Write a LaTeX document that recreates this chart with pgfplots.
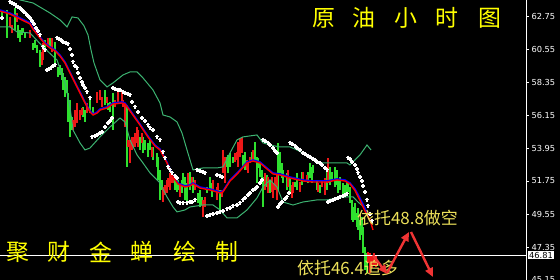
\documentclass[border=0pt]{standalone}
\usepackage{pgfplots}
\pgfplotsset{compat=1.18}
\usepackage{pgfplotstable}
\usetikzlibrary{arrows.meta}
\usepackage{fontspec}
\newfontfamily\cjk{Noto Sans CJK SC}
\newfontfamily\tickfont{DejaVu Sans}
\definecolor{barup}{HTML}{2EE02E}
\definecolor{bardn}{HTML}{EE1818}
\definecolor{band}{HTML}{3CB371}
\definecolor{titley}{HTML}{FFFF00}
\definecolor{notey}{HTML}{EEE25A}
\definecolor{arrowred}{HTML}{F03434}

% hourly bars: x position, low, high
\pgfplotstableread{
x lo hi
2 62.62 63.15
7 61.29 63.15
15 61.82 63.29
18 61.29 62.15
20 61.02 61.82
22 61.49 61.95
23 61.62 61.95
25 61.29 61.62
33 60.49 60.95
35 60.62 61.15
37 60.29 60.82
40 59.35 60.49
45 60.62 61.15
50 60.69 61.29
55 59.62 61.02
58 58.69 59.35
60 58.82 59.49
62 58.49 59.29
63 57.82 58.95
65 57.35 58.69
67 57.62 58.49
68 55.69 57.62
70 54.69 57.15
72 55.15 56.02
83 56.02 56.69
85 55.69 56.49
90 56.29 57.29
93 56.15 56.69
105 56.82 57.82
108 56.49 56.95
110 56.35 57.02
113 55.15 57.62
127 52.69 56.82
140 53.82 54.69
143 53.62 54.69
145 53.82 54.49
148 53.35 54.29
150 53.82 54.49
153 53.15 54.02
157 52.69 53.62
158 51.82 53.35
160 50.49 52.49
162 51.15 51.82
175 51.15 51.82
177 51.02 51.62
178 51.15 51.82
182 50.95 51.82
183 51.35 52.29
185 50.49 52.02
187 50.29 51.62
190 51.15 52.35
193 50.95 52.02
198 50.29 50.95
200 50.02 51.15
202 50.15 50.69
207 50.95 51.35
210 51.15 52.02
212 50.69 51.62
220 49.82 51.15
227 52.69 53.35
228 52.29 53.49
230 52.69 53.62
233 52.95 53.35
243 52.69 53.49
245 52.49 53.69
252 53.02 53.69
255 53.15 54.35
257 51.62 53.35
258 52.62 53.29
260 52.02 53.02
262 51.82 52.49
263 50.02 52.02
267 51.35 52.15
270 50.95 51.82
278 51.15 54.29
280 52.29 53.69
282 51.95 52.95
283 51.62 52.49
287 51.15 52.29
290 51.02 51.95
295 51.35 51.69
297 51.15 52.29
302 51.49 52.35
308 51.62 52.35
310 51.95 52.95
312 51.62 52.69
313 52.29 52.82
317 51.15 51.82
320 50.95 51.49
327 51.15 52.49
330 51.49 52.69
332 51.82 52.35
335 51.35 52.69
337 51.49 52.49
338 50.95 51.82
340 51.15 52.02
343 50.69 51.62
345 50.82 51.49
347 50.82 51.69
348 51.02 51.62
350 50.29 51.35
352 49.15 50.49
353 49.02 50.02
355 49.15 50.29
357 48.69 49.62
358 48.49 49.95
360 47.82 49.15
362 48.15 49.35
363 46.95 48.69
365 45.82 47.35
367 45.62 46.95
}\upbars

\pgfplotstableread{
x lo hi
10 62.02 62.69
12 61.62 62.15
17 62.35 62.95
30 61.29 61.82
42 59.49 60.35
43 59.82 60.95
48 60.69 61.29
52 60.35 61.29
73 55.15 55.82
75 55.35 56.49
77 55.62 56.95
80 55.82 56.49
82 56.15 56.62
87 56.29 56.95
97 56.95 57.69
100 57.15 57.82
102 56.69 57.35
107 56.95 57.35
115 56.69 57.15
118 57.02 57.82
122 57.02 57.69
123 56.69 57.15
125 55.35 56.95
128 54.02 54.49
130 52.95 54.49
132 53.82 54.69
133 54.02 54.69
135 54.02 54.95
137 54.29 55.35
138 54.02 55.15
142 54.29 54.95
152 53.35 54.02
163 50.35 51.35
165 50.82 51.49
167 50.95 51.82
168 51.35 51.95
170 51.15 52.29
172 51.62 52.29
173 51.62 52.02
180 50.69 51.62
188 51.35 52.29
192 51.62 52.02
195 51.15 51.82
203 49.35 50.49
205 50.02 50.69
213 51.15 51.82
217 50.49 51.35
218 50.95 51.62
222 50.69 51.15
223 52.29 53.82
225 51.62 53.35
235 53.02 53.62
237 53.15 53.69
238 52.69 54.35
240 53.35 54.62
242 53.62 54.69
247 52.49 53.15
248 52.29 53.02
250 52.95 53.35
253 53.15 53.82
265 51.15 52.29
268 50.95 52.02
272 51.02 52.02
273 50.62 51.62
275 51.15 52.02
277 50.49 52.29
288 51.35 52.49
292 50.62 51.49
293 50.95 51.69
300 51.02 51.69
303 51.82 52.35
307 51.69 52.15
318 51.02 51.62
322 51.35 51.82
325 50.82 51.95
328 51.62 53.29
368 46.29 47.02
370 45.62 46.95
372 45.95 46.82
374 46.15 46.95
376 46.02 46.82
}\dnbars

% fast moving average
\pgfplotstableread{
x y
0 63.15
10 62.95
20 62.62
30 62.29
33 61.95
40 61.35
45 60.95
50 60.69
55 60.49
60 60.15
65 59.69
70 59.02
75 58.35
80 57.69
85 57.02
90 56.42
93 56.22
97 56.35
100 56.55
107 56.69
113 56.95
122 57.02
125 56.95
130 56.49
140 55.55
148 54.75
155 54.15
160 53.89
167 53.02
173 52.09
178 51.62
185 51.42
190 51.49
193 51.62
200 51.35
210 51.22
220 51.02
223 51.09
230 51.82
238 52.35
247 53.02
253 53.15
260 53.02
267 52.62
273 52.29
280 52.22
290 52.02
303 51.82
313 51.75
327 51.75
337 51.89
345 51.82
350 51.62
355 51.22
360 50.62
365 49.95
368 49.42
}\maBlue

% slow moving average
\pgfplotstableread{
x y
0 63.08
10 62.88
20 62.55
30 62.22
33 61.88
40 61.28
45 60.88
50 60.62
55 60.42
60 60.08
65 59.62
70 58.95
75 58.28
80 57.62
85 56.95
90 56.35
93 56.15
97 56.28
100 56.48
107 56.62
113 56.88
122 56.95
125 56.88
130 56.42
140 55.48
148 54.68
155 54.08
160 53.82
167 52.95
173 52.02
178 51.55
185 51.35
190 51.42
193 51.55
200 51.28
210 51.15
220 50.95
223 51.02
230 51.75
238 52.28
247 52.95
253 53.08
260 52.95
267 52.55
273 52.22
280 52.15
290 51.95
303 51.75
313 51.68
327 51.68
337 51.82
345 51.75
350 51.55
355 51.12
360 50.45
365 49.75
370 49.15
373 48.49
}\maRed

% Bollinger upper band
\pgfplotstableread{
x y
0 64.35
10 64.09
20 63.82
33 63.62
50 62.95
60 62.49
67 62.02
72 62.69
78 62.62
84 62.09
88 61.49
91 60.49
94 59.62
100 58.49
107 58.02
113 58.29
123 58.82
130 59.02
137 59.02
143 58.62
153 57.82
160 56.95
163 56.15
170 56.02
177 55.69
182 54.95
187 53.82
193 52.49
203 52.62
217 52.62
223 52.69
230 53.62
237 54.49
243 54.69
257 54.82
263 54.29
270 54.15
280 54.02
290 54.02
297 53.82
310 53.35
320 52.95
330 52.95
347 52.95
350 52.82
360 53.49
367 54.15
371 53.82
}\bandUp

% Bollinger lower band
\pgfplotstableread{
x y
0 62.02
10 62.02
17 61.69
30 61.62
43 60.69
57 59.82
65 58.29
70 56.69
73 55.15
80 54.29
85 53.82
90 53.95
100 54.69
110 55.35
120 55.95
125 55.69
130 54.49
137 53.49
143 52.95
150 52.29
160 51.62
167 50.69
173 50.02
177 49.69
185 49.82
190 50.02
203 50.15
213 50.15
220 49.82
227 49.29
237 49.29
247 49.82
257 50.62
263 51.35
270 51.82
277 51.35
283 50.35
293 50.15
303 50.35
317 50.49
327 50.49
337 50.62
347 50.69
353 50.69
358 50.35
365 49.95
}\bandLo

% parabolic SAR
\pgfplotstableread{
x y
2 62.62
10 63.69
12 63.62
14 63.55
16 63.45
18 63.35
20 63.29
22 63.15
24 63.02
26 62.89
28 62.75
30 62.62
32 62.42
34 62.22
36 61.95
38 61.75
40 61.49
43 60.69
45 60.49
47 59.15
49 59.22
51 59.29
53 59.42
55 59.49
57 61.29
59 61.22
61 61.15
63 61.02
66 60.95
68 60.89
70 60.55
72 60.15
73 59.69
75 59.42
77 59.29
78 58.95
80 58.62
82 58.35
83 58.15
85 57.95
87 57.69
90 57.29
92 54.69
95 54.75
97 54.82
100 54.95
102 55.02
105 55.35
108 55.62
110 55.75
112 55.95
113 57.95
115 57.89
118 57.82
120 57.82
123 57.69
125 57.62
128 57.55
130 57.49
132 57.02
135 56.69
138 56.35
142 55.95
145 55.75
148 55.49
150 55.29
153 55.15
157 54.69
160 54.49
163 53.69
165 53.29
168 52.69
170 52.49
172 52.29
175 52.09
177 51.95
178 50.35
180 50.29
183 50.29
187 50.29
190 50.35
192 50.35
195 50.49
197 52.49
200 52.42
203 52.35
205 52.29
207 49.42
210 49.49
213 49.55
217 49.62
217 52.15
220 52.09
222 52.02
220 49.69
223 49.75
227 49.89
230 49.95
233 50.09
237 50.15
240 50.29
243 50.49
245 50.62
248 50.82
250 50.95
253 51.15
255 51.22
257 51.35
260 51.62
262 51.82
263 54.49
265 54.42
268 54.29
270 54.15
273 53.95
275 53.75
277 53.62
278 50.02
280 50.22
282 50.35
285 50.55
287 50.69
289 50.95
290 54.29
292 54.22
295 54.09
297 53.95
300 53.82
303 53.62
305 53.55
308 53.42
310 53.35
313 53.22
315 53.15
317 53.02
320 52.95
322 52.82
325 52.62
327 52.49
328 50.35
330 50.42
333 50.49
335 50.55
338 50.62
340 50.69
343 50.75
345 50.82
347 50.89
348 53.29
350 53.22
352 53.02
355 52.82
357 52.55
358 52.29
360 52.02
362 51.75
363 51.42
365 51.02
367 50.49
368 50.09
370 49.55
372 49.09
}\sar

\begin{document}
\begin{tikzpicture}
\path[use as bounding box, fill=black] (0,0) rectangle (560bp,280bp);
\begin{axis}[
  at={(0,0)}, anchor=south west,
  scale only axis, width=526bp, height=280bp,
  xmin=0, xmax=526, ymin=45.15, ymax=63.8167,
  axis x line=none, axis y line*=right,
  axis line style={white, line width=0.9bp},
  ytick={45.15,47.35,49.55,51.75,53.95,56.15,58.35,60.55,62.75},
  scaled y ticks=false,
  /pgf/number format/assume math mode=true,
  /pgf/number format/fixed, /pgf/number format/fixed zerofill,
  /pgf/number format/precision=2,
  yticklabel style={font=\tickfont\fontsize{8.3}{9}\selectfont, text=white, xshift=-1bp},
  tick style={white, line width=0.6bp},
  major tick length=3bp, tick align=outside,
]
% bars
\addplot[draw=none, error bars/.cd, y dir=plus, y explicit, error mark=none,
  error bar style={draw=barup, line width=1.7bp}]
  table[x=x, y=lo, y error expr=\thisrow{hi}-\thisrow{lo}] {\upbars};
\addplot[draw=none, error bars/.cd, y dir=plus, y explicit, error mark=none,
  error bar style={draw=bardn, line width=1.7bp}]
  table[x=x, y=lo, y error expr=\thisrow{hi}-\thisrow{lo}] {\dnbars};
% Bollinger bands
\addplot[band, line width=1bp] table[x=x, y=y] {\bandUp};
\addplot[band, line width=1bp] table[x=x, y=y] {\bandLo};
% moving averages
\addplot[blue, line width=1.5bp] table[x=x, y=y] {\maBlue};
\addplot[red, line width=1.4bp] table[x=x, y=y] {\maRed};
% SAR
\addplot[only marks, white, mark=+, mark size=2.2bp, mark options={line width=1.2bp}]
  table[x=x, y=y] {\sar};
% current price line
\addplot[white, line width=0.9bp] coordinates {(0,46.81) (526,46.81)};
\end{axis}

% price tag
\node[fill=white, text=black, font=\tickfont\fontsize{8.3}{9}\selectfont,
  inner xsep=1.5bp, inner ysep=1.2bp, anchor=west] at (527.5bp,25bp) {46.81};

% title and signature
\begin{scope}[every node/.style={text=titley, font=\cjk\fontsize{23}{23}\selectfont, inner sep=0pt}]
\node at (324bp,262bp) {原};
\node at (364bp,262bp) {油};
\node at (406bp,262bp) {小};
\node at (447bp,262bp) {时};
\node at (490bp,262bp) {图};
\node at (18bp,28bp) {聚};
\node at (59bp,28bp) {财};
\node at (101bp,28bp) {金};
\node at (142bp,28bp) {蝉};
\node at (185bp,28bp) {绘};
\node at (227bp,28bp) {制};
\end{scope}

% trade notes
\node[text=notey, font=\cjk\fontsize{17}{17}\selectfont, anchor=west, inner sep=0pt]
  at (357bp,62bp) {依托48.8做空};
\node[text=notey, font=\cjk\fontsize{17}{17}\selectfont, anchor=west, inner sep=0pt]
  at (297bp,12bp) {依托46.4追多};

% expected path
\begin{scope}[arrowred, line width=2.4bp, -{Triangle[length=9bp,width=8bp]}]
\draw (373bp,25bp) -- (387bp,6bp);
\draw (387bp,7bp) -- (409bp,48bp);
\draw (411bp,48bp) -- (433bp,3bp);
\end{scope}
\end{tikzpicture}
\end{document}
